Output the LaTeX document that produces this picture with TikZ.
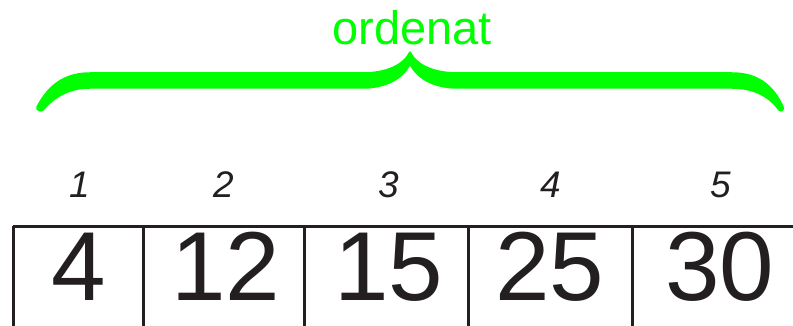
\documentclass[tikz,border=0pt]{standalone}
\usepackage{fontspec}
\setmainfont{Liberation Sans}
\definecolor{bracegreen}{HTML}{00FF00}
\definecolor{ink}{HTML}{231F20}
\begin{document}
\begin{tikzpicture}[x=1pt,y=-1pt,
  bigdigit/.style={anchor=base,text=ink,inner sep=0pt,font=\fontsize{98}{98}\selectfont},
  idx/.style={anchor=base,text=ink,inner sep=0pt,font=\fontsize{37}{37}\selectfont\itshape},
  celline/.style={draw=ink,line width=3pt},
  bracefill/.style={fill=bracegreen,draw=bracegreen,line width=1.5pt,line join=round}]
\useasboundingbox (0,0) rectangle (793,326);
\clip (0,0) rectangle (793,326);
% brace
\path[bracefill] (37,107) .. controls (50,82) and (68,73) .. (90,73) -- (362,73)
  .. controls (385,73) and (403,66) .. (410,52)
  .. controls (417,66) and (435,73) .. (458,73) -- (732,73)
  .. controls (754,73) and (772,82) .. (783,107)
  .. controls (784,110) and (781,112) .. (779,110)
  .. controls (768,95) and (752,88) .. (732,88) -- (458,88)
  .. controls (436,88) and (418,80) .. (410,64)
  .. controls (402,80) and (384,88) .. (362,88) -- (90,88)
  .. controls (70,88) and (55,96) .. (43,110)
  .. controls (41,112) and (36,110) .. (37,107) -- cycle;
\node[anchor=base,text=bracegreen,inner sep=0pt,font=\fontsize{47}{47}\selectfont] (label) at (412,45) {ordenat};
% indices
\node[idx] (i1) at (80,197) {1};
\node[idx] (i2) at (224,197) {2};
\node[idx] (i3) at (389,197) {3};
\node[idx] (i4) at (551,197) {4};
\node[idx] (i5) at (721,197) {5};
% cells
\draw[celline] (13,226) -- (800,226);
\draw[celline] (13,226) -- (13,340);
\draw[celline] (143,226) -- (143,340);
\draw[celline] (304,226) -- (304,340);
\draw[celline] (468,226) -- (468,340);
\draw[celline] (632,226) -- (632,340);
\node[bigdigit] (v1) at (79,300) {4};
\node[bigdigit] (v2) at (226,300) {12};
\node[bigdigit] (v3) at (389,300) {15};
\node[bigdigit] (v4) at (550,300) {25};
\node[bigdigit] (v5) at (720,300) {30};
\end{tikzpicture}
\end{document}
